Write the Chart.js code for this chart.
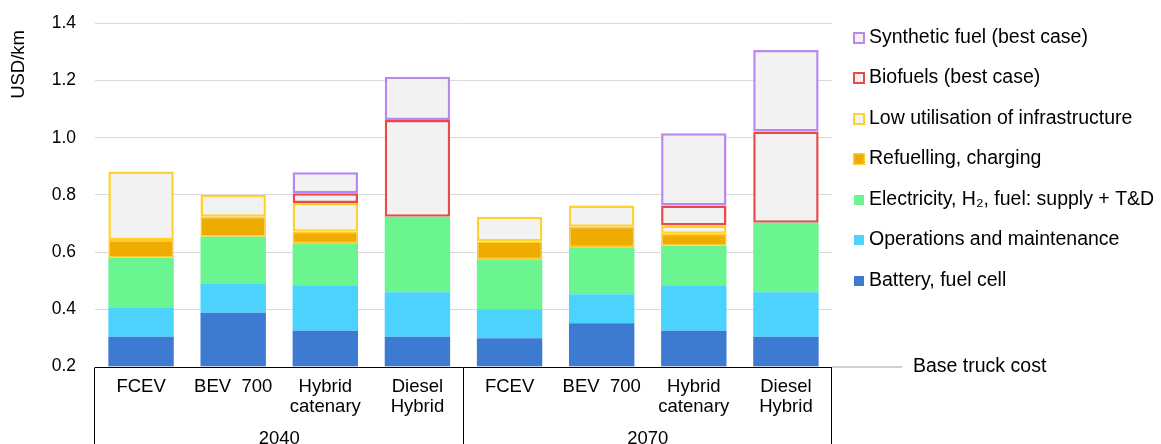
<!DOCTYPE html>
<html><head><meta charset="utf-8">
<script src="https://cdn.jsdelivr.net/npm/chart.js@4"></script>
<style>html,body{margin:0;padding:0;background:#fff;overflow:hidden}#wrap{width:1161px;height:444px;position:relative}</style>
</head><body><div id="wrap"><canvas id="c"></canvas></div>
<script>
const categories = ['FCEV', 'BEV  700', ['Hybrid', 'catenary'], ['Diesel', 'Hybrid'], 'FCEV', 'BEV  700', ['Hybrid', 'catenary'], ['Diesel', 'Hybrid']];
const groupLabels = ['2040', '2070'];
const yTicks = [0.2, 0.4, 0.6, 0.8, 1.0, 1.2, 1.4];
const yTitle = 'USD/km';
const baseTruckCost = [0.2, 0.2, 0.2, 0.2, 0.2, 0.2, 0.2, 0.2];
const batteryFuelCell = [0.104, 0.188, 0.125, 0.104, 0.099, 0.151, 0.125, 0.104];
const operationsMaintenance = [0.103, 0.103, 0.157, 0.156, 0.101, 0.102, 0.157, 0.156];
const electricitySupply = [0.174, 0.163, 0.149, 0.264, 0.175, 0.164, 0.141, 0.243];
const refuellingCharging = [0.062, 0.070, 0.040, null, 0.062, 0.072, 0.041, null];
const lowUtilisation = [0.239, 0.076, 0.101, null, 0.087, 0.074, 0.029, null];
const biofuels = [null, null, 0.034, 0.338, null, null, 0.070, 0.319];
const syntheticFuel = [null, null, 0.074, 0.152, null, null, 0.253, 0.285];

const FONT = '"Liberation Sans", Arial, sans-serif';
function ds(label, data, bg, border, bw, legend) {
  return { label, data, backgroundColor: bg, borderColor: border, borderWidth: bw, borderSkipped: false, stack: 's', showInLegend: legend };
}
const datasets = [
  ds('Base truck cost', baseTruckCost, '#9DC3E6', '#9DC3E6', 0, false),
  ds('Battery, fuel cell', batteryFuelCell, '#3D7BD3', '#3D7BD3', 0, true),
  ds('Operations and maintenance', operationsMaintenance, '#4BD3FE', '#4BD3FE', 0, true),
  ds('Electricity, H\u2082, fuel: supply + T&D', electricitySupply, '#6AF591', '#6AF591', 0, true),
  ds('Refuelling, charging', refuellingCharging, '#F0AB00', '#FFCB2E', 1.5, true),
  ds('Low utilisation of infrastructure', lowUtilisation, '#F2F2F2', '#FFD22A', 2.5, true),
  ds('Biofuels (best case)', biofuels, '#F2F2F2', '#E84A4B', 2.5, true),
  ds('Synthetic fuel (best case)', syntheticFuel, '#F2F2F2', '#B788EE', 2.5, true)
];

const decor = {
  id: 'decor',
  afterDraw(chart) {
    const { ctx, chartArea: a } = chart;
    const x = chart.scales.x, y = chart.scales.y;
    ctx.save();
    // y axis title
    ctx.save();
    ctx.translate(19, 30); ctx.rotate(-Math.PI / 2);
    ctx.font = '18.5px ' + FONT; ctx.fillStyle = '#000'; ctx.textAlign = 'right'; ctx.textBaseline = 'middle';
    ctx.fillText(yTitle, 0, 0);
    ctx.restore();
    // category box
    ctx.strokeStyle = '#000'; ctx.lineWidth = 1;
    const yb = Math.round(y.getPixelForValue(0.2)) + 0.5;
    ctx.beginPath(); ctx.moveTo(a.left, yb); ctx.lineTo(a.right, yb); ctx.stroke();
    const mid = (x.getPixelForValue(3) + x.getPixelForValue(4)) / 2;
    [a.left, mid, a.right].forEach(px => {
      const p = Math.round(px) - 0.5;
      ctx.beginPath(); ctx.moveTo(p, yb); ctx.lineTo(p, chart.height + 2); ctx.stroke();
    });
    // group labels
    ctx.font = '18.5px ' + FONT; ctx.fillStyle = '#000'; ctx.textAlign = 'center'; ctx.textBaseline = 'alphabetic';
    groupLabels.forEach((g, i) => {
      const cx = (x.getPixelForValue(i * 4) + x.getPixelForValue(i * 4 + 3)) / 2;
      ctx.fillText(g, cx, 444);
    });
    // base truck cost leader
    ctx.strokeStyle = '#BFBFBF'; ctx.lineWidth = 1.5;
    ctx.beginPath(); ctx.moveTo(a.right, yb - 0.5); ctx.lineTo(a.right + 70, yb - 0.5); ctx.stroke();
    ctx.font = '19.5px ' + FONT; ctx.textAlign = 'left'; ctx.textBaseline = 'middle';
    ctx.fillText(datasets[0].label, a.right + 81, yb - 1);
    // legend
    const items = chart.data.datasets.filter(d => d.showInLegend).slice().reverse();
    items.forEach((d, i) => {
      const cy = 37.5 + i * 40.5;
      const sx = a.right + 21, sz = 12, sy = Math.round(cy - sz / 2);
      if (d.borderWidth > 0) {
        ctx.fillStyle = d.borderColor; ctx.fillRect(sx, sy, sz, sz);
        const bw = d.borderWidth > 2 ? 2 : 1.5;
        ctx.fillStyle = d.backgroundColor; ctx.fillRect(sx + bw, sy + bw, sz - 2 * bw, sz - 2 * bw);
      } else {
        ctx.fillStyle = d.backgroundColor; ctx.fillRect(sx + 1, sy + 1, sz - 2, sz - 2);
      }
      ctx.fillStyle = '#000';
      ctx.fillText(d.label, a.right + 37, cy);
    });
    ctx.restore();
  }
};

const isBase = c => c.tick && Math.abs(c.tick.value - 0.2) < 1e-6;

new Chart(document.getElementById('c'), {
  type: 'bar',
  data: { labels: categories, datasets },
  options: {
    responsive: true, maintainAspectRatio: false, animation: false,
    layout: { padding: { left: 0, right: 329, top: 23.5, bottom: 0 } },
    datasets: { bar: { barPercentage: 0.71, categoryPercentage: 1.0 } },
    plugins: { legend: { display: false }, tooltip: { enabled: false }, title: { display: false } },
    scales: {
      x: {
        stacked: true,
        grid: { display: false }, border: { display: false },
        ticks: { autoSkip: false, maxRotation: 0, padding: 3, color: '#000', font: { family: FONT, size: 18.5, lineHeight: 1.05 } },
        afterFit: s => { s.height = 77.5; }
      },
      y: {
        stacked: true, min: 0.2, max: 1.4,
        afterBuildTicks: s => { s.ticks = yTicks.map(v => ({ value: v })); },
        afterFit: s => { s.width = 95; },
        border: { display: false },
        grid: { color: c => isBase(c) ? 'rgba(0,0,0,0)' : '#D9D9D9', lineWidth: 1, tickLength: 19, tickColor: 'rgba(0,0,0,0)' },
        ticks: { padding: 0, color: '#000', font: { family: FONT, size: 17.5 }, callback: v => Number(v).toFixed(1) },
        title: { display: false }
      }
    }
  },
  plugins: [decor]
});
</script></body></html>
